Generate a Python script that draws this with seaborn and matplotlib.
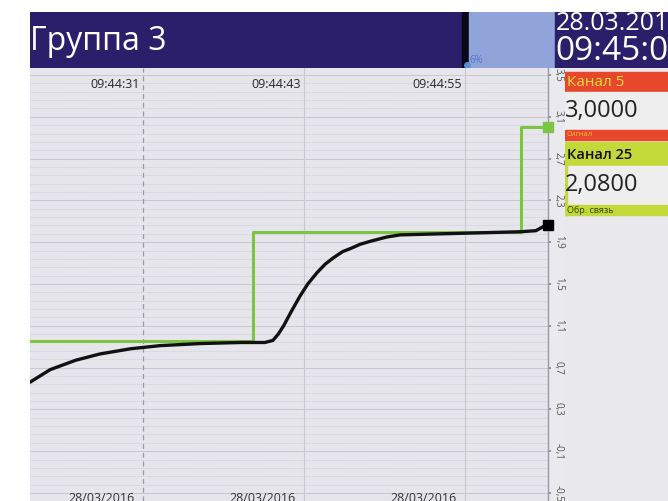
import numpy as np
import pandas as pd
import matplotlib
matplotlib.use("Agg")
import matplotlib.pyplot as plt
import seaborn as sns
from matplotlib.patches import Rectangle

# -------------------- DATA --------------------
# time in seconds after 09:44:00
FEEDBACK_T = [22.6, 24.1, 26.0, 27.8, 30.1, 32.3, 35.3, 38.3, 40.1, 40.7, 41.1, 41.5,
              42.0, 42.7, 43.3, 44.0, 44.6, 45.2, 45.9, 46.5, 47.2, 48.0, 49.2, 50.2,
              53.2, 56.2, 59.2, 60.3, 61.0]
FEEDBACK_V = [0.56, 0.68, 0.77, 0.83, 0.88, 0.91, 0.93, 0.94, 0.94, 0.96, 1.02, 1.10,
              1.22, 1.38, 1.50, 1.61, 1.69, 1.75, 1.81, 1.84, 1.88, 1.91, 1.95, 1.97,
              1.98, 1.99, 2.00, 2.01, 2.06]
SIGNAL_T = [22.6, 39.2, 59.2, 61.0]
SIGNAL_V = [0.95, 2.00, 3.00, 3.00]

TIME_TICKS = [31, 43, 55]
TIME_LABELS = ["09:44:31", "09:44:43", "09:44:55"]
DATE_LABELS = ["28/03/2016", "28/03/2016", "28/03/2016"]
Y_TICKS = [3.5, 3.1, 2.7, 2.3, 1.9, 1.5, 1.1, 0.7, 0.3, -0.1, -0.5]

TITLE = "Группа 3"
DATE_TXT = "28.03.201"
TIME_TXT = "09:45:0"
PERCENT_TXT = "6%"
CH1_NAME, CH1_VAL, CH1_TAG = "Канал 5", "3,0000", "Сигнал"
CH2_NAME, CH2_VAL, CH2_TAG = "Канал 25", "2,0800", "Обр. связь"

# -------------------- STYLE --------------------
NAVY = "#2b1f6b"
BG = "#e5e5eb"
GREEN = "#7cc444"
RED = "#e8472b"
LIME = "#c3d93a"

sns.set_theme(style="white")
plt.rcParams["font.family"] = ["Open Sans", "DejaVu Sans"]

W, H = 668, 501
fig = plt.figure(figsize=(W / 100, H / 100), dpi=100, facecolor="white")


def px_axes(x0, y0, x1, y1, **kw):
    """axes placed by pixel box (top-left origin)"""
    return fig.add_axes([x0 / W, 1 - y1 / H, (x1 - x0) / W, (y1 - y0) / H], **kw)


# -------------------- HEADER --------------------
hdr = px_axes(30, 12, 668, 68)
hdr.set_xlim(30, 668)
hdr.set_ylim(68, 12)
hdr.axis("off")
hdr.add_patch(Rectangle((30, 12), 432, 56, color=NAVY))
hdr.add_patch(Rectangle((462, 12), 7, 56, color="#08081a"))
hdr.add_patch(Rectangle((469, 12), 86, 56, color="#91a4d9"))
hdr.add_patch(Rectangle((555, 12), 113, 56, color=NAVY))
hdr.text(30, 41, TITLE, color="white", fontsize=23, va="center", ha="left")
hdr.text(470, 66, PERCENT_TXT, color="#5577cc", fontsize=7, va="bottom", ha="left")
hdr.plot([467], [65], marker="o", ms=4, color="#5a8fd0")
hdr.text(556, 23, DATE_TXT, color="white", fontsize=18, va="center", ha="left")
hdr.text(555, 51, TIME_TXT, color="white", fontsize=24, va="center", ha="left")

# -------------------- CHANNEL PANEL --------------------
pn = px_axes(565, 68, 668, 501)
pn.set_xlim(565, 668)
pn.set_ylim(501, 68)
pn.axis("off")
pn.add_patch(Rectangle((565, 68), 103, 433, color="#e8e8ed"))
pn.add_patch(Rectangle((565, 72), 103, 20, color=RED))
pn.add_patch(Rectangle((565, 92), 103, 38, color="#eeeeee"))
pn.add_patch(Rectangle((565, 130), 103, 10, color=RED))
pn.add_patch(Rectangle((565, 142), 103, 24, color=LIME))
pn.add_patch(Rectangle((565, 166), 103, 39, color="#eeeeee"))
pn.add_patch(Rectangle((565, 205), 103, 10, color=LIME))
pn.add_patch(Rectangle((565, 142), 2, 73, color=LIME))
pn.text(567, 82, CH1_NAME, color="#e8e040", fontsize=11, va="center")
pn.text(565, 111, CH1_VAL, color="#222222", fontsize=17, va="center")
pn.text(567, 135, CH1_TAG, color="#e8c040", fontsize=5.5, va="center")
pn.text(567, 155, CH2_NAME, color="#111111", fontsize=10.5, va="center", fontweight="semibold")
pn.text(565, 185, CH2_VAL, color="#222222", fontsize=17, va="center")
pn.text(567, 210, CH2_TAG, color="#334400", fontsize=6.5, va="center")

# scale strip behind y labels
strip = px_axes(548, 68, 565, 501)
strip.set_facecolor("#e9e9ee")
strip.set_xticks([])
strip.set_yticks([])
for s in strip.spines.values():
    s.set_visible(False)

# -------------------- MAIN CHART --------------------
ax = px_axes(30, 68, 548, 501)
ax.set_zorder(10)
ax.set_facecolor(BG)

fb = pd.DataFrame({"t": FEEDBACK_T, "v": FEEDBACK_V})
sg = pd.DataFrame({"t": SIGNAL_T, "v": SIGNAL_V})

sns.lineplot(data=sg, x="t", y="v", ax=ax, color=GREEN, lw=2.2,
             drawstyle="steps-post", estimator=None, zorder=3)
sns.lineplot(data=fb, x="t", y="v", ax=ax, color="#111111", lw=2.4,
             estimator=None, sort=False, zorder=4,
             solid_joinstyle="round", solid_capstyle="round")

ax.set_xlim(22.6, 61.2)
ax.set_ylim(-0.577, 3.567)

# horizontal grid
ax.set_yticks(Y_TICKS)
ax.set_yticks(np.arange(-0.5, 3.56, 0.08), minor=True)
ax.grid(axis="y", which="major", color="#c8c8d0", lw=0.7)
ax.grid(axis="y", which="minor", color="#cfcfd6", lw=0.6, ls=(0, (1.5, 1)))
ax.set_xticks([])

for i, (t, lab) in enumerate(zip(TIME_TICKS, TIME_LABELS)):
    if i == 0:
        ax.axvline(t, color="#9a9aa2", lw=0.9, ls=(0, (4, 3)), zorder=1)
    else:
        ax.axvline(t, color="#c8c8cf", lw=0.8, zorder=1)
    ax.annotate(lab, (t, 1), xycoords=("data", "axes fraction"),
                xytext=(-2, -12), textcoords="offset points",
                ha="right", va="center", fontsize=9, color="#2a2a2a")
    ax.annotate(DATE_LABELS[i], (t, 0), xycoords=("data", "axes fraction"),
                xytext=(-6, 2), textcoords="offset points",
                ha="right", va="center", fontsize=9, color="#333333")

ax.yaxis.tick_right()
ax.set_yticklabels([f"{v:.1f}".replace(".", ",") for v in Y_TICKS],
                   rotation=-90, fontsize=7, color="#555555",
                   va="center", ha="left")
ax.tick_params(axis="y", which="major", length=2, color="#888888", pad=1.5)
ax.tick_params(axis="y", which="minor", length=0)
ax.set_xlabel("")
ax.set_ylabel("")
for k, s in ax.spines.items():
    s.set_visible(k == "right")
ax.spines["right"].set_color("#9a9aa2")
ax.spines["right"].set_linewidth(1.0)

# value markers at the scale
ax.plot([SIGNAL_T[-1] + 0.2], [SIGNAL_V[-1]], marker="s", ms=7, color=GREEN,
        clip_on=False, zorder=5)
ax.plot([FEEDBACK_T[-1] + 0.2], [FEEDBACK_V[-1]], marker="s", ms=7, color="black",
        clip_on=False, zorder=5)

fig.savefig("out.png", dpi=100, facecolor="white")
